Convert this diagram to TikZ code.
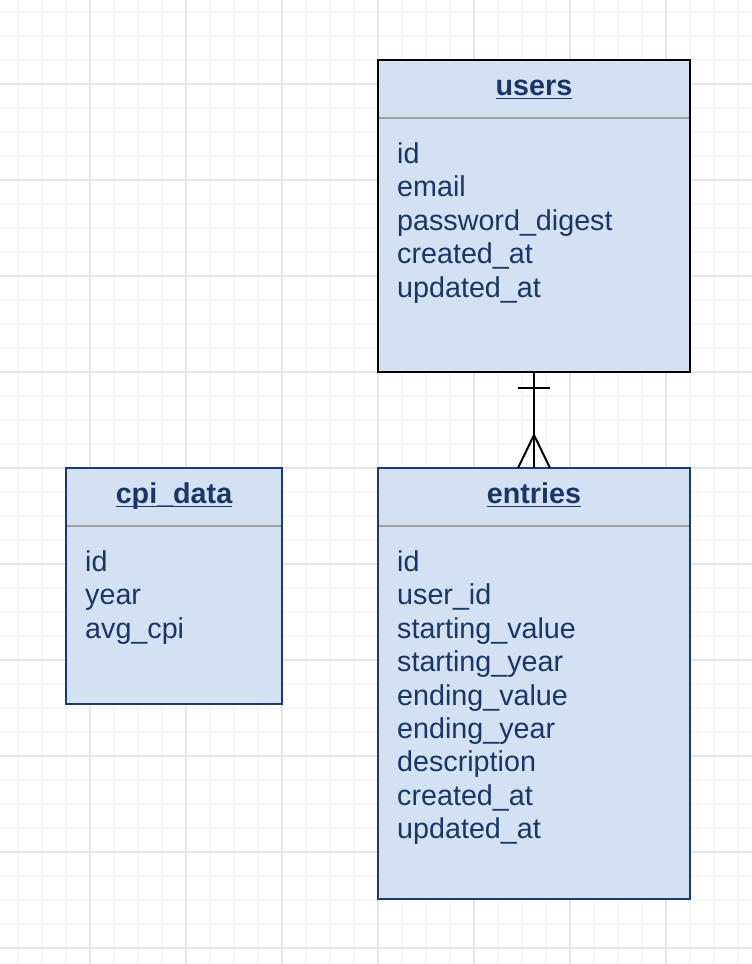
\documentclass[tikz,border=0pt]{standalone}
\usepackage{fontspec}
\setmainfont{Liberation Sans}
\definecolor{fillblue}{HTML}{D4E1F3}
\definecolor{navy}{HTML}{1B3A6E}
\definecolor{txt}{HTML}{1A3666}
\definecolor{gridminor}{HTML}{F6F6F6}
\definecolor{gridmajor}{HTML}{E5E5E5}
\definecolor{sepgray}{HTML}{9E9E9E}
\begin{document}
\begin{tikzpicture}[x=1pt,y=-1pt,
  table/.style={draw=navy, line width=2pt, fill=fillblue, anchor=north west, inner sep=0pt, outer sep=0pt},
  tabletitle/.style={font=\fontsize{28.7}{34}\selectfont\bfseries, text=txt, anchor=base, inner sep=0pt},
  field/.style={font=\fontsize{28.7}{34}\selectfont, text=txt, anchor=base west, inner sep=0pt},
  sepline/.style={draw=sepgray, line width=2pt},
  uline/.style={draw=txt, line width=1.6pt},
  rel/.style={draw=black, line width=2pt}]
\useasboundingbox (0,0) rectangle (752,964);
\fill[white] (0,0) rectangle (752,964);
% grid
\foreach \x in {18,42,...,750} \draw[gridminor, line width=1.5pt] (\x,0) -- (\x,964);
\foreach \y in {12,36,...,962} \draw[gridminor, line width=1.5pt] (0,\y) -- (752,\y);
\foreach \x in {90,186,...,750} \draw[gridmajor, line width=1.5pt] (\x,0) -- (\x,964);
\foreach \y in {84,180,...,962} \draw[gridmajor, line width=1.5pt] (0,\y) -- (752,\y);
% tables
\node[table, draw=black, line width=2.5pt, minimum width=312pt, minimum height=312pt] (users) at (378,60) {};
\node[table, minimum width=312pt, minimum height=431pt] (entries) at (378,468) {};
\node[table, minimum width=216pt, minimum height=236pt] (cpi) at (66,468) {};
% separators
\draw[sepline] ([xshift=1pt,yshift=-58pt]users.north west) -- ([xshift=-1pt,yshift=-58pt]users.north east);
\draw[sepline] ([xshift=1pt,yshift=-58pt]entries.north west) -- ([xshift=-1pt,yshift=-58pt]entries.north east);
\draw[sepline] ([xshift=1pt,yshift=-58pt]cpi.north west) -- ([xshift=-1pt,yshift=-58pt]cpi.north east);
% titles
\node[tabletitle] (usersT) at (534,95) {users};
\draw[uline] ([yshift=-3.5pt]usersT.base west) -- ([yshift=-3.5pt]usersT.base east);
\node[tabletitle] (entriesT) at (534,503) {entries};
\draw[uline] ([yshift=-3.5pt]entriesT.base west) -- ([yshift=-3.5pt]entriesT.base east);
\node[tabletitle] (cpiT) at (174,503) {cpi\_data};
\draw[uline] ([yshift=-3.5pt]cpiT.base west) -- ([yshift=-3.5pt]cpiT.base east);
% users fields
\foreach \t [count=\i from 0] in {id,email,password\_digest,created\_at,updated\_at}
  \node[field] (u\i) at (397,163.5+33.4*\i) {\t};
% entries fields
\foreach \t [count=\i from 0] in {id,user\_id,starting\_value,starting\_year,ending\_value,ending\_year,description,created\_at,updated\_at}
  \node[field] (e\i) at (397,571.5+33.4*\i) {\t};
% cpi fields
\foreach \t [count=\i from 0] in {id,year,avg\_cpi}
  \node[field] (c\i) at (85,571.5+33.4*\i) {\t};
% relationship
\draw[rel] (users.south) -- (entries.north);
\draw[rel] ([xshift=-16pt,yshift=-16pt]users.south) -- ([xshift=16pt,yshift=-16pt]users.south);
\draw[rel] ([xshift=-16pt]entries.north) -- ([yshift=33pt]entries.north) -- ([xshift=16pt]entries.north);
\end{tikzpicture}
\end{document}
